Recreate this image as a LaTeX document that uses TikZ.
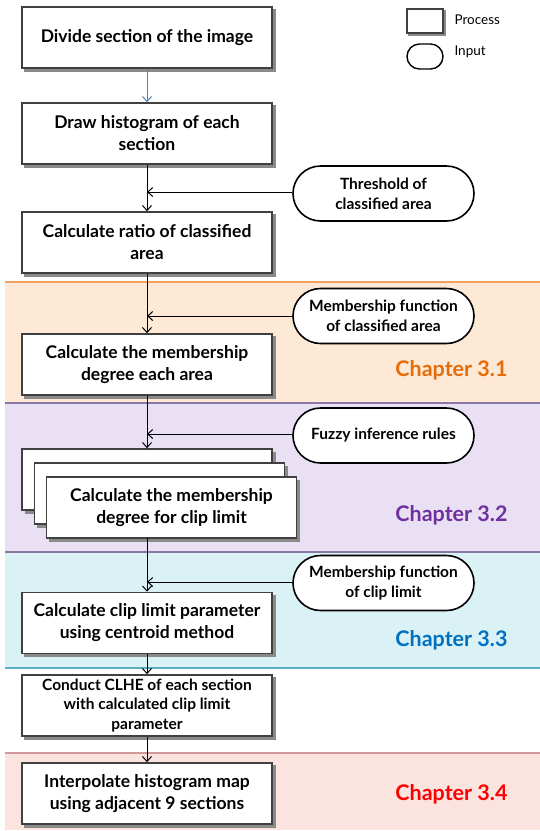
\documentclass[tikz,border=0pt]{standalone}
\usepackage{fontspec}
\setmainfont{Lato}[BoldFont={Lato Bold}]
\usetikzlibrary{arrows.meta,shapes.misc}
\definecolor{orfill}{HTML}{FDE9D5}
\definecolor{orline}{HTML}{F0A060}
\definecolor{pufill}{HTML}{E9E0F3}
\definecolor{puline}{HTML}{8C78A8}
\definecolor{cyfill}{HTML}{DAF1F5}
\definecolor{cyline}{HTML}{5BAFC5}
\definecolor{refill}{HTML}{FBE3E0}
\definecolor{reline}{HTML}{D09898}
\definecolor{boxline}{HTML}{404040}
\definecolor{blarrow}{HTML}{4F81BD}
\definecolor{ch1}{HTML}{E46C0A}
\definecolor{ch2}{HTML}{7030A0}
\definecolor{ch3}{HTML}{0070C0}
\definecolor{ch4}{HTML}{FF0000}
\definecolor{shad}{HTML}{8A8A8A}
\pgfdeclarelayer{bands}
\pgfdeclarelayer{shadowlayer}
\pgfsetlayers{bands,shadowlayer,main}
\newcommand{\myshadow}[2][3]{%
  \begin{pgfonlayer}{shadowlayer}
  \fill[shad] ([xshift=#1pt,yshift=-#1pt]#2.south west) rectangle ([xshift=#1pt,yshift=-#1pt]#2.north east);
  \end{pgfonlayer}}
\tikzset{
  procbox/.style={draw=boxline, line width=1.6pt, fill=white, minimum width=250pt, minimum height=61pt, inner sep=2pt, align=center, font=\fontsize{17.5}{22}\selectfont\bfseries},
  shadbox/.style={fill=shad, minimum width=251pt, minimum height=62pt, inner sep=0pt},
  inbox/.style={draw=black, line width=1.6pt, fill=white, rounded rectangle, minimum width=185pt, minimum height=55pt, inner sep=2pt, align=center, font=\fontsize{15.5}{20}\selectfont\bfseries},
  flow/.style={line width=1pt, -{Straight Barb[length=5pt,width=9pt,line width=1pt]}},
  chap/.style={anchor=east, font=\fontsize{21.5}{25}\selectfont\bfseries},
}
\begin{document}
\begin{tikzpicture}[x=1pt,y=-1pt]
\useasboundingbox (0,0) rectangle (540,831);
% bands
\begin{pgfonlayer}{bands}
\fill[orfill] (5,282) rectangle (540,403);
\fill[pufill] (5,403) rectangle (540,552);
\fill[cyfill] (5,552) rectangle (540,668);
\fill[refill] (5,753) rectangle (540,830);
\draw[orline, line width=2pt] (5,282) -- (540,282);
\draw[puline, line width=2pt] (5,403) -- (540,403);
\draw[puline!80!gray, line width=2pt] (5,552) -- (540,552);
\draw[cyline, line width=2pt] (5,668) -- (540,668);
\draw[reline, line width=2pt] (5,753) -- (540,753);
\end{pgfonlayer}
% chapter labels
\node[chap, text=ch1] (c1) at (511,370) {Chapter 3.1};
\node[chap, text=ch2] (c2) at (511,515) {Chapter 3.2};
\node[chap, text=ch3] (c3) at (511,640) {Chapter 3.3};
\node[chap, text=ch4] (c4) at (511,794) {Chapter 3.4};
% legend
\node[draw=boxline, line width=1.4pt, fill=white, minimum width=36pt, minimum height=24pt, inner sep=0pt] (lp) at (425,21) {};
\myshadow[2]{lp}
\node[draw=black, line width=1.4pt, rounded rectangle, minimum width=36pt, minimum height=25pt, inner sep=0pt] (li) at (425,56.5) {};
\node[anchor=west, font=\fontsize{13.5}{15}\selectfont] (lpt) at (451,20) {Process};
\node[anchor=west, font=\fontsize{13.5}{15}\selectfont] (lit) at (451,52) {Input};
% process boxes
\node[procbox] (b1) at (147,37.5) {Divide section of the image};
\node[procbox] (b2) at (147,133.5) {Draw histogram of each\\section};
\node[procbox] (b3) at (147,242.5) {Calculate ratio of classified\\area};
\node[procbox] (b4) at (147,364.5) {Calculate the membership\\degree each area};
% stacked boxes
\node[shadbox] (s5a) at (150,482.5) {};
\node[procbox] (b5a) at (147,479.5) {};
\node[shadbox] (s5b) at (162.5,496.5) {};
\node[procbox] (b5b) at (159.5,493.5) {};
\node[shadbox] (s5c) at (174.5,510.5) {};
\node[procbox] (b5) at (171.5,507.5) {Calculate the membership\\degree for clip limit};
\node[procbox] (b6) at (147,623) {Calculate clip limit parameter\\using centroid method};
\node[procbox, font=\fontsize{15.5}{19.5}\selectfont\bfseries] (b7) at (147,705.5) {Conduct CLHE of each section\\with calculated clip limit\\parameter};
\node[procbox] (b8) at (147,793.5) {Interpolate histogram map\\using adjacent 9 sections};
\myshadow{b1}\myshadow{b2}\myshadow{b3}\myshadow{b4}\myshadow{b6}\myshadow{b7}\myshadow{b8}
% inputs
\node[inbox] (i1) at (383.5,193.5) {Threshold of\\classified area};
\node[inbox] (i2) at (383.5,316) {Membership function\\of classified area};
\node[inbox] (i3) at (383.5,435.5) {Fuzzy inference rules};
\node[inbox] (i4) at (383.5,583) {Membership function\\of clip limit};
% junction points
\coordinate (j1) at (147,192);
\coordinate (j2) at (147,316);
\coordinate (j3) at (147,434);
\coordinate (j4) at (147,582);
\coordinate (s5) at (147,538);
% connectors
\draw[flow, draw=blarrow, line width=0.8pt] (b1) -- (b2);
\draw[flow] (b2) -- (b3);
\draw[flow] (i1.west |- j1) -- (j1);
\draw[flow] (b3) -- (b4);
\draw[flow] (i2.west |- j2) -- (j2);
\draw[flow] (b4) -- (b5a);
\draw[flow] (i3.west |- j3) -- (j3);
\draw[flow] (s5) -- (b6);
\draw[flow] (i4.west |- j4) -- (j4);
\draw[flow] (b6) -- (b7);
\draw[flow] (b7) -- (b8);
\end{tikzpicture}
\end{document}
